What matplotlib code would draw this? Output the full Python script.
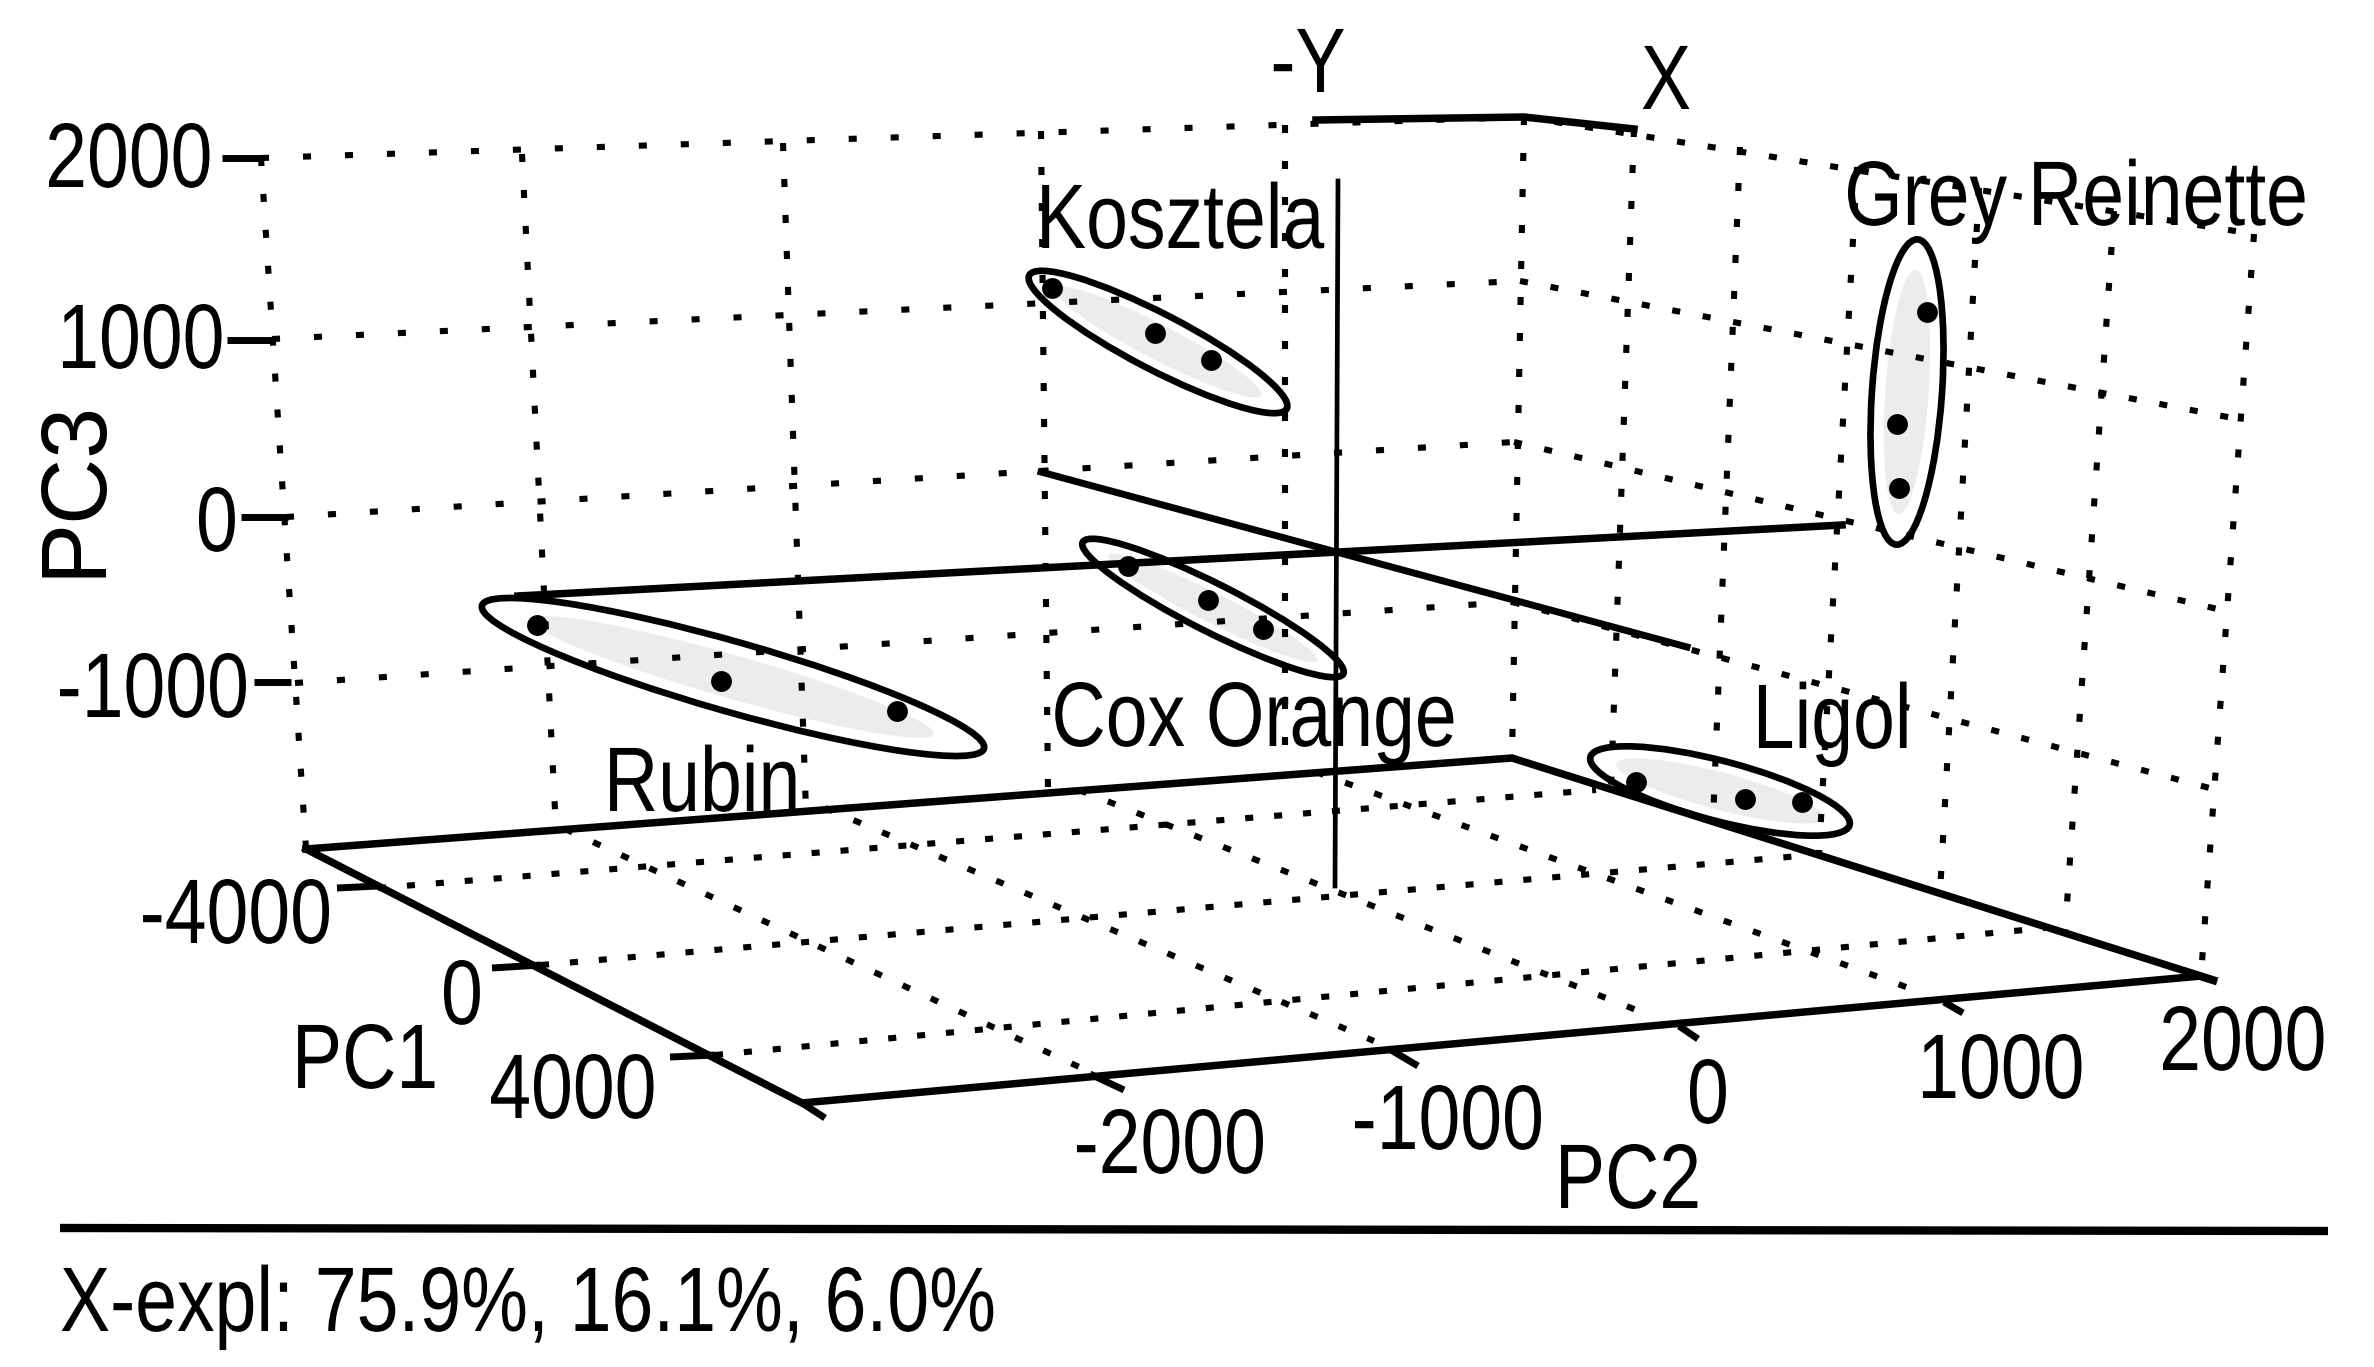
import matplotlib
matplotlib.use('Agg')
import matplotlib.pyplot as plt
from matplotlib.patches import Ellipse
from matplotlib.patheffects import AbstractPathEffect
from matplotlib.transforms import Affine2D

plt.rcParams['font.family'] = ['Liberation Sans', 'DejaVu Sans']
plt.rcParams['lines.scale_dashes'] = False

# everything below is read off the picture, in the plane of the projected 3D plot
# floor corners: back left, back right, front right, front left
floor_x = [306, 1512, 2201, 802, 306]
floor_y = [849, 758, 976, 1103, 849]

# wall lines for PC3 = 2000, 1000, 0, -1000 (left end, corner, right end)
wall_levels_x = [[261, 1524, 2254], [272, 1520, 2243], [286, 1514, 2230], [295, 1512, 2217]]
wall_levels_y = [[158, 117, 234], [339, 281, 420], [517, 442, 612], [683, 602, 790]]

# wall verticals (top x, bottom x, top y, bottom y)
wall_top_x = [261, 522, 783, 1041, 1285, 1524, 1634, 1740, 1857, 1979, 2114, 2254]
wall_bot_x = [306, 556, 806, 1048, 1285, 1512, 1611, 1713, 1819, 1940, 2065, 2201]
wall_top_y = [158, 154, 143, 131, 125, 117, 129, 147, 167, 188, 211, 234]
wall_bot_y = [849, 830, 811, 793, 775, 758, 789, 822, 855, 893, 933, 976]

# floor grid
pc1_grid_x = [[378, 1596], [541, 1811], [715, 2045]]
pc1_grid_y = [[888, 790], [965, 855], [1055, 928]]
pc2_grid_x = [[565, 1090], [825, 1374], [1079, 1649], [1316, 1917]]
pc2_grid_y = [[829, 1072], [808, 1041], [790, 1015], [772, 991]]

# axis ticks
pc3_tick_x = [[222, 261], [227, 274], [241, 288], [254, 291]]
pc3_tick_y = [[158, 158], [340, 340], [517, 517], [682, 682]]
pc1_tick_x = [[337, 378], [492, 541], [670, 715]]
pc1_tick_y = [[888, 886], [968, 965], [1057, 1055]]
pc2_tick_x = [[802, 825], [1090, 1124], [1391, 1418], [1679, 1698], [1944, 1963], [2198, 2217]]
pc2_tick_y = [[1103, 1118], [1074, 1090], [1050, 1066], [1026, 1039], [1002, 1013], [976, 982]]

# thick lines at the top and the three centre axes
top_x = [1316, 1524, 1634]
top_y = [120, 117, 129]
centre_x = [[1338, 1335], [518, 1842], [1041, 1687]]
centre_y = [[181, 886], [596, 525], [472, 647]]

# cultivars
names = ['Kosztela', 'Grey Reinette', 'Cox Orange', 'Rubin', 'Ligol']
points_x = [[1052, 1155, 1211], [1927, 1897, 1899], [1128, 1208, 1263], [537, 721, 897], [1636, 1745, 1802]]
points_y = [[288, 333, 360], [312, 424, 488], [566, 600, 629], [625, 681, 711], [782, 799, 802]]
ell_x = [1158, 1907, 1213, 733, 1720]
ell_y = [342, 392, 608, 677, 791]
ell_long = [145, 153, 146, 261, 134]
ell_short = [28, 35, 24, 35, 30]
ell_angle = [27.4, 94, 26.8, 15.9, 14.7]
name_x = [1180, 2076, 1254, 702, 1832]
name_y = [248, 225, 746, 811, 748]

# text
pc3_labels = ['2000', '1000', '0', '-1000']
pc3_label_x = [129, 141, 217, 153]
pc3_label_y = [187, 368, 551, 717]
pc1_labels = ['-4000', '0', '4000']
pc1_label_x = [236, 462, 573]
pc1_label_y = [943, 1024, 1118]
pc2_labels = ['-2000', '-1000', '0', '1000', '2000']
pc2_label_x = [1170, 1448, 1708, 2001, 2243]
pc2_label_y = [1173, 1149, 1123, 1098, 1070]

FONT = 66
NARROW = 0.82
H = 1367


class Squeeze(AbstractPathEffect):
    """Squeeze a text sideways around an anchor, the reference type is condensed."""

    def __init__(self, x):
        super().__init__()
        self.x = x

    def draw_path(self, renderer, gc, tpath, affine, rgbFace=None):
        squeeze = Affine2D().translate(-self.x, 0).scale(NARROW, 1).translate(self.x, 0)
        renderer.draw_path(gc, tpath, affine + squeeze, rgbFace)


def label(ax, x, y, s, ha='center', zorder=6):
    # axes fill the figure at 1 data unit = 1 px, so x is also the display anchor
    t = ax.text(x, y, s, fontsize=FONT, ha=ha, va='baseline', zorder=zorder)
    t.set_path_effects([Squeeze(x)])
    return t


def dotted(ax, xs, ys, period_px):
    # dot of about 8 px, the rest of the period is the gap
    ax.plot(xs, ys, color='black', lw=4.4, linestyle=(0, (5.8, period_px * 0.72 - 5.8)),
            dash_capstyle='butt', zorder=1)


fig = plt.figure(figsize=(23.74, 13.67), dpi=100)
ax = fig.add_axes([0, 0, 1, 1])
ax.set_xlim(0, 2374)
ax.set_ylim(H, 0)
ax.axis('off')

# wall grid
for xs, ys in zip(wall_levels_x, wall_levels_y):
    dotted(ax, xs[:2], ys[:2], 42)
    dotted(ax, xs[1:], ys[1:], 31)
for i in range(len(wall_top_x)):
    dotted(ax, [wall_top_x[i], wall_bot_x[i]], [wall_top_y[i], wall_bot_y[i]], 36)

# floor grid
for xs, ys in zip(pc1_grid_x, pc1_grid_y):
    dotted(ax, xs, ys, 29)
for xs, ys in zip(pc2_grid_x, pc2_grid_y):
    dotted(ax, xs, ys, 31)

# floor outline and ticks
ax.plot(floor_x, floor_y, color='black', lw=5.4, solid_joinstyle='miter', zorder=3)
for xs, ys in zip(pc3_tick_x + pc1_tick_x + pc2_tick_x, pc3_tick_y + pc1_tick_y + pc2_tick_y):
    ax.plot(xs, ys, color='black', lw=5, solid_capstyle='butt', zorder=3)

ax.plot(top_x, top_y, color='black', lw=5.4, zorder=3)
ax.plot(centre_x[0], centre_y[0], color='black', lw=3.4, zorder=3)
ax.plot(centre_x[1], centre_y[1], color='black', lw=5.4, zorder=3)
ax.plot(centre_x[2], centre_y[2], color='black', lw=5, zorder=3)

# clusters
for i in range(len(names)):
    # the grey smear inside each ellipse
    ax.add_patch(Ellipse((ell_x[i], ell_y[i]), 2 * ell_long[i] * 0.8, 2 * ell_short[i] * 0.62,
                         angle=ell_angle[i], facecolor='#ececec', edgecolor='none', zorder=0))
    ax.add_patch(Ellipse((ell_x[i], ell_y[i]), 2 * ell_long[i], 2 * ell_short[i],
                         angle=ell_angle[i], facecolor='none', edgecolor='black', lw=4.8, zorder=4))
    ax.plot(points_x[i], points_y[i], 'o', color='black', ms=15, mew=0, zorder=5)
    label(ax, name_x[i], name_y[i], names[i])

# tick labels and axis names
for labels, xs, ys in [(pc3_labels, pc3_label_x, pc3_label_y),
                       (pc1_labels, pc1_label_x, pc1_label_y),
                       (pc2_labels, pc2_label_x, pc2_label_y)]:
    for lab, x, y in zip(labels, xs, ys):
        label(ax, x, y, lab)

# the rotated label is not condensed along its length in the reference
ax.text(76, 488, 'PC3', fontsize=FONT, rotation=90, ha='center', va='center')
label(ax, 365, 1088, 'PC1')
label(ax, 1628, 1208, 'PC2')
label(ax, 1308, 92, '-Y')
label(ax, 1666, 109, 'X')

# rule and footer
ax.plot([60, 2328], [1228, 1231], color='black', lw=6, solid_capstyle='butt')
label(ax, 60, 1331, 'X-expl: 75.9%, 16.1%, 6.0%', ha='left')

fig.savefig('out.png', dpi=100, facecolor='white')
